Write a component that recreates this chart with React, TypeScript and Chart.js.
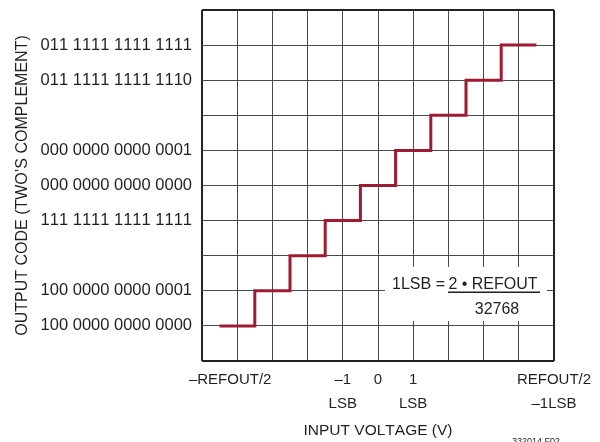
import React, { useEffect, useRef } from "react";
import { Chart, registerables } from "chart.js";

Chart.register(...registerables);

// ---- data ----
const stepX = [0.5, 1.5, 2.5, 3.5, 4.5, 5.5, 6.5, 7.5, 8.5, 9.5];
const stepY = [1, 2, 3, 4, 5, 6, 7, 8, 9, 9];
const yCodeLabels = [
  "",
  "100 0000 0000 0000",
  "100 0000 0000 0001",
  "",
  "111 1111 1111 1111",
  "000 0000 0000 0000",
  "000 0000 0000 0001",
  "",
  "011 1111 1111 1110",
  "011 1111 1111 1111",
  "",
];
const xLabelPositions = [0.8, 4, 5, 6, 10];
const xLabelTexts: (string | string[])[] = [
  "\u2013REFOUT/2",
  ["\u20131", "LSB"],
  "0",
  ["1", "LSB"],
  ["REFOUT/2", "\u20131LSB"],
];
const xTitle = "INPUT VOLTAGE (V)";
const yTitle = "OUTPUT CODE (TWO\u2019S COMPLEMENT)";
const formulaLeft = "1LSB =";
const formulaNum = "2 \u2022 REFOUT";
const formulaDen = "32768";
const footNote = "332014 F02";

const FONT = '"Liberation Sans", Arial, sans-serif';
const TEXT = "#231f20";
const GRID = "#4a4a4a";
const EDGE = "#222222";
const LINE = "#9e1b32";

const formulaPlugin = {
  id: "formula",
  beforeDraw(chart: any) {
    try {
      chart.ctx.fontKerning = "none";
    } catch (e) {
      /* ignore */
    }
  },
  beforeDatasetsDraw(chart: any) {
    const { ctx, scales } = chart;
    const xs = scales.x;
    const ys = scales.y;
    ctx.save();
    const l = xs.getPixelForValue(5.2);
    const r = xs.getPixelForValue(9.8);
    const t = ys.getPixelForValue(2.68);
    const b = ys.getPixelForValue(1.14);
    ctx.fillStyle = "#ffffff";
    ctx.fillRect(l, t, r - l, b - t);
    ctx.fillStyle = TEXT;
    ctx.font = `16px ${FONT}`;
    ctx.textBaseline = "alphabetic";
    const mid = ys.getPixelForValue(2);
    ctx.textAlign = "right";
    ctx.fillText(formulaLeft, 445, mid - 2);
    ctx.textAlign = "center";
    ctx.fillText(formulaNum, 493, mid - 2);
    ctx.fillText(formulaDen, 497, mid + 23);
    ctx.strokeStyle = TEXT;
    ctx.lineWidth = 1.5;
    ctx.beginPath();
    ctx.moveTo(448, mid + 1.5);
    ctx.lineTo(540, mid + 1.5);
    ctx.stroke();
    ctx.restore();
  },
  afterDraw(chart: any) {
    const { ctx } = chart;
    ctx.save();
    ctx.fillStyle = TEXT;
    ctx.font = `9px ${FONT}`;
    ctx.textAlign = "left";
    ctx.textBaseline = "top";
    ctx.fillText(footNote, 512, 437);
    ctx.restore();
  },
};

export default function App() {
  const ref = useRef<HTMLCanvasElement | null>(null);
  useEffect(() => {
    if (!ref.current) return;
    const isEdge = (c: any) => c.tick && (c.tick.value === 0 || c.tick.value === 10);
    const edgeWidth = (c: any) => (isEdge(c) ? 2 : 1);
    const edgeColor = (c: any) => (isEdge(c) ? EDGE : GRID);
    const chart = new Chart(ref.current, {
      type: "line",
      data: {
        datasets: [
          {
            data: stepX.map((x, i) => ({ x, y: stepY[i] })),
            borderColor: LINE,
            borderWidth: 3,
            pointRadius: 0,
            stepped: true,
            fill: false,
          },
        ],
      },
      plugins: [formulaPlugin],
      options: {
        animation: false,
        responsive: false,
        devicePixelRatio: 1,
        layout: { padding: { top: 10, right: 46, left: 0, bottom: 0 } },
        plugins: { legend: { display: false }, tooltip: { enabled: false } },
        scales: {
          x: {
            type: "linear",
            position: "bottom",
            min: 0,
            max: 10,
            ticks: { stepSize: 1, display: false },
            grid: { drawTicks: false, color: edgeColor, lineWidth: edgeWidth },
            border: { display: false },
            afterFit(s: any) {
              s.height = 0;
              s.paddingLeft = 0;
              s.paddingRight = 0;
            },
          },
          xl: {
            type: "linear",
            position: "bottom",
            min: 0,
            max: 10,
            afterBuildTicks(s: any) {
              s.ticks = xLabelPositions.map((v) => ({ value: v }));
            },
            ticks: {
              autoSkip: false,
              maxRotation: 0,
              minRotation: 0,
              padding: 6.5,
              color: TEXT,
              font: { family: FONT, size: 15, lineHeight: 1.6 },
              callback: (v: any) => {
                const i = xLabelPositions.indexOf(Number(v));
                return i >= 0 ? xLabelTexts[i] : "";
              },
            },
            grid: { display: false, drawTicks: false },
            border: { display: false },
            title: {
              display: true,
              text: xTitle,
              color: TEXT,
              font: { family: FONT, size: 15.5, lineHeight: 1.2 },
              padding: { top: 0, bottom: 2 },
            },
            afterFit(s: any) {
              s.height = 81;
              s.paddingLeft = 0;
              s.paddingRight = 0;
            },
          },
          y: {
            type: "linear",
            min: 0,
            max: 10,
            afterBuildTicks(s: any) {
              s.ticks = yCodeLabels.map((_, i) => ({ value: i }));
            },
            ticks: {
              autoSkip: false,
              padding: 10,
              color: TEXT,
              font: { family: FONT, size: 16.5 },
              callback: (v: any) => yCodeLabels[Number(v)] ?? "",
            },
            grid: { drawTicks: false, color: edgeColor, lineWidth: edgeWidth },
            border: { display: false },
            title: {
              display: true,
              text: yTitle,
              color: TEXT,
              font: { family: FONT, size: 16, lineHeight: 1.2 },
              padding: { top: 13, bottom: 0 },
            },
            afterFit(s: any) {
              s.width = 202;
              s.paddingTop = 0;
              s.paddingBottom = 0;
            },
          },
        },
      },
    } as any);
    return () => chart.destroy();
  }, []);
  return (
    <div style={{ position: "absolute", left: 0, top: 0, width: 600, height: 442, background: "#fff" }}>
      <canvas ref={ref} width={600} height={442} style={{ display: "block", width: 600, height: 442 }} />
    </div>
  );
}
